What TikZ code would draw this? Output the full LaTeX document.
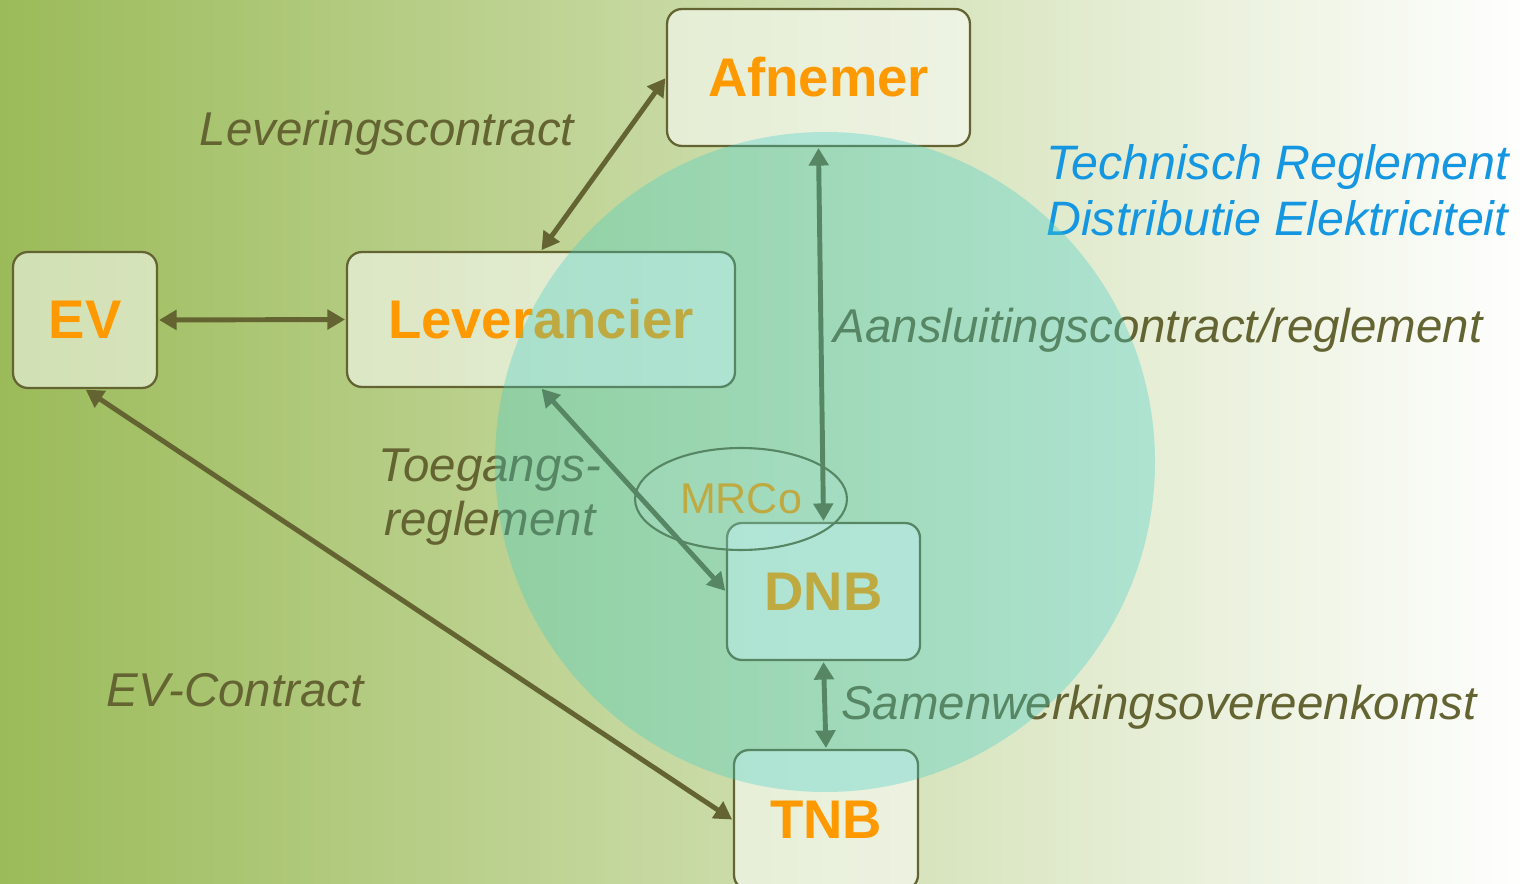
\documentclass[tikz,border=0pt]{standalone}
\usepackage{fontspec}
\setmainfont{Liberation Sans}
\usetikzlibrary{arrows.meta,shapes.geometric}
\definecolor{bgL}{RGB}{155,187,89}
\definecolor{bgM}{RGB}{212,224,180}
\definecolor{olive}{RGB}{100,100,50}
\definecolor{orng}{RGB}{255,153,0}
\definecolor{cyanc}{RGB}{60,205,200}
\definecolor{blueT}{RGB}{20,150,225}
\tikzset{
  box/.style={draw=olive, line width=1.3pt, rounded corners=8.5pt, fill=white, fill opacity=0.55, text opacity=1,
    font=\fontsize{31}{36}\selectfont\bfseries, text=orng, inner sep=0pt},
  lbl/.style={font=\fontsize{27}{31}\selectfont\itshape, text=olive, inner sep=0pt},
  conn/.style={draw=olive, line width=2.8pt, {Triangle[length=10pt,width=11pt]}-{Triangle[length=10pt,width=11pt]}, shorten <=0.5pt, shorten >=0.5pt}
}
\begin{document}
\begin{tikzpicture}[x=0.02cm,y=-0.02cm]
\useasboundingbox (0,0) rectangle (1531,884);
\shade[left color=bgL, middle color=bgM, right color=white] (0,0) rectangle (1531,884);
% boxes
\node[box, minimum width=6.06cm, minimum height=2.74cm] (afn) at (818.5,77.5) {Afnemer};
\node[box, minimum width=2.88cm, minimum height=2.72cm] (ev) at (85,320) {EV};
\node[box, minimum width=7.76cm, minimum height=2.70cm] (lev) at (541,319.5) {Leverancier};
\node[box, minimum width=3.86cm, minimum height=2.74cm] (dnb) at (823.5,591.5) {DNB};
\node[box, minimum width=3.68cm, minimum height=2.80cm] (tnb) at (826,820) {TNB};
% ellipse
\node[ellipse, draw=olive, line width=1.2pt, fill=white, fill opacity=0.15, text opacity=1, minimum width=4.24cm, minimum height=2.04cm, inner sep=0pt,
  font=\fontsize{24.5}{28}\selectfont, text=orng] (mrco) at (741,499) {MRCo};
% connectors
\draw[conn] (afn.west) -- (lev.north);
\draw[conn] (ev.east) -- (lev.west);
\draw[conn] (ev.south) -- (tnb.west);
\draw[conn] (lev.south) -- (dnb.west);
\draw[conn] (afn.south) -- (dnb.north);
\draw[conn] (dnb.south) -- (tnb.north);
% labels
\node[lbl] (l1) at (387,133) {Leveringscontract};
\node[lbl] (l2) at (1158,330) {Aansluitingscontract/reglement};
\node[lbl, align=center] (l3) at (490,497) {Toegangs-\\reglement};
\node[lbl] (l4) at (235,690) {EV-Contract};
\node[lbl] (l5) at (1159,707) {Samenwerkingsovereenkomst};
\node[lbl, text=blueT, align=left, anchor=west, font=\fontsize{27.5}{32}\selectfont\itshape] (l6) at (1046,190) {Technisch Reglement\\Distributie Elektriciteit};
% circle overlay
\fill[cyanc, fill opacity=0.33] (825,462) circle[radius=330];
\end{tikzpicture}
\end{document}
